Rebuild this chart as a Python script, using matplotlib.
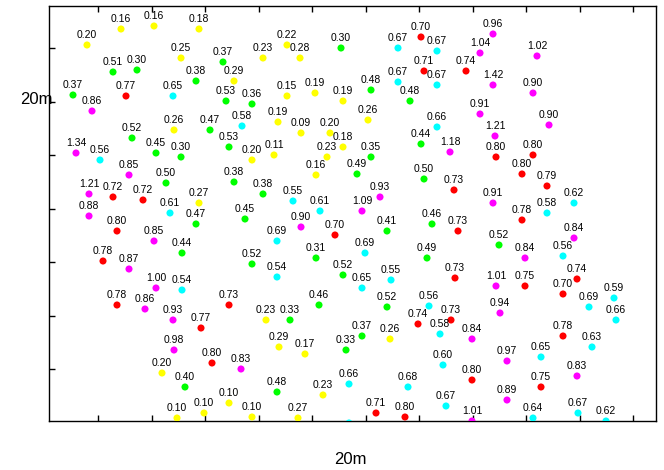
import numpy as np
import matplotlib.pyplot as plt

plt.rcParams['font.family'] = ['Liberation Sans', 'DejaVu Sans']

# tree positions on the plot grid (x to the right, y downward) and measured values
x = [121, 154, 199, 87, 181, 113, 137, 196, 73, 126, 173, 92, 174, 132,
     223, 263, 287, 300, 341, 234, 226, 252, 287, 315, 343, 210, 242, 278, 301,
     330, 343, 229, 252, 274, 327,
     421, 493, 398, 437, 480, 424, 466, 398, 437, 493, 371, 410, 480, 368, 437,
     495, 421, 450, 496, 371,
     537, 533, 549, 533,
     76, 100, 156, 181, 129, 166, 89, 113, 143, 199, 170, 89, 196, 117, 154,
     182, 103, 129, 156, 182,
     316, 357, 234, 263, 293, 320, 362, 245, 301, 335, 277, 316, 252, 343, 277,
     424, 454, 380, 493, 432, 387, 458, 499, 365, 427, 455, 391, 496, 362,
     522, 547, 574, 547, 522, 574, 525, 563, 577, 525, 563,
     117, 145, 173, 201, 174, 212, 162, 185, 177, 204,
     229, 319, 266, 290, 279, 305, 346, 241, 349, 277, 323, 229, 252, 298, 349,
     387, 429, 500, 418, 451, 362, 390, 440, 472, 507, 443, 472, 408, 507, 446,
     376, 405, 472,
     589, 614, 616, 563, 592, 541, 577, 541, 533, 578, 606]
y = [29, 26, 29, 45, 58, 72, 70, 81, 95, 96, 96, 111, 130, 138,
     62, 58, 45, 58, 48, 81, 101, 104, 96, 93, 101, 130, 126, 122, 133,
     133, 147, 147, 160, 155, 157,
     37, 34, 48, 51, 53, 71, 71, 82, 85, 85, 90, 101, 114, 120, 127,
     136, 144, 152, 157, 157,
     56, 93, 125, 155,
     153, 160, 153, 157, 175, 183, 194, 197, 200, 203, 213, 216, 224, 231, 241,
     253, 261, 269, 288, 290,
     175, 174, 182, 194, 201, 211, 211, 219, 227, 235, 241, 258, 264, 275, 277,
     179, 190, 197, 203, 224, 231, 231, 245, 253, 258, 278, 280, 286, 288,
     174, 186, 203, 213, 220, 238, 258, 256, 279, 286, 294,
     305, 309, 320, 328, 350, 363, 373, 387, 418, 413,
     305, 305, 320, 320, 347, 354, 350, 369, 384, 392, 395, 403, 417, 418, 423,
     307, 306, 313, 324, 320, 336, 339, 334, 339, 361, 365, 380, 387, 400, 406,
     413, 417, 421,
     307, 298, 320, 336, 347, 357, 376, 387, 418, 413, 421]
values = [0.16, 0.16, 0.18, 0.20, 0.25, 0.51, 0.30, 0.38, 0.37, 0.77, 0.65, 0.86, 0.26, 0.52,
          0.37, 0.23, 0.22, 0.28, 0.30, 0.29, 0.53, 0.36, 0.15, 0.19, 0.19, 0.47, 0.58, 0.19, 0.09,
          0.20, 0.18, 0.53, 0.20, 0.11, 0.23,
          0.70, 0.96, 0.67, 0.67, 1.04, 0.71, 0.74, 0.67, 0.67, 1.42, 0.48, 0.48, 0.91, 0.26, 0.66,
          1.21, 0.44, 1.18, 0.80, 0.35,
          1.02, 0.90, 0.90, 0.80,
          1.34, 0.56, 0.45, 0.30, 0.85, 0.50, 1.21, 0.72, 0.72, 0.27, 0.61, 0.88, 0.47, 0.80, 0.85,
          0.44, 0.78, 0.87, 1.00, 0.54,
          0.16, 0.49, 0.38, 0.38, 0.55, 0.61, 1.09, 0.45, 0.90, 0.70, 0.69, 0.31, 0.52, 0.52, 0.54,
          0.50, 0.73, 0.93, 0.91, 0.46, 0.41, 0.73, 0.52, 0.69, 0.49, 0.73, 0.55, 1.01, 0.65,
          0.80, 0.79, 0.62, 0.58, 0.78, 0.84, 0.84, 0.56, 0.74, 0.75, 0.70,
          0.78, 0.86, 0.93, 0.77, 0.98, 0.80, 0.20, 0.40, 0.10, 0.10,
          0.73, 0.46, 0.23, 0.33, 0.29, 0.17, 0.33, 0.83, 0.66, 0.48, 0.23, 0.10, 0.10, 0.27, 0.66,
          0.52, 0.56, 0.94, 0.74, 0.73, 0.37, 0.26, 0.58, 0.84, 0.97, 0.60, 0.80, 0.68, 0.89, 0.67,
          0.71, 0.80, 1.01,
          0.69, 0.59, 0.66, 0.78, 0.63, 0.65, 0.83, 0.75, 0.64, 0.67, 0.62]

# value classes: upper bound and colour
class_bounds = [0.295, 0.535, 0.695, 0.805, np.inf]
class_colors = ['#ffff00', '#00ff00', '#00ffff', '#ff0000', '#ff00ff']

x_ticks = [98, 151.5, 205, 258.5, 312, 365.5, 419, 472.5, 526, 579.5, 633]
y_ticks = [48, 101.5, 155, 208.5, 262, 315.5, 369]

fig = plt.figure(figsize=(6.64, 4.70), dpi=100)
ax = fig.add_axes([49 / 664, 49 / 470, 607 / 664, 415 / 470])
ax.set_xlim(49, 656)
ax.set_ylim(421, 6)

vals = np.array(values)
cls = np.searchsorted(class_bounds, vals)
colors = [class_colors[c] for c in cls]
ax.scatter(x, y, s=26, c=colors, edgecolors='none', zorder=3)

for xi, yi, v in zip(x, y, values):
    ax.annotate(f'{v:.2f}', (xi, yi), xytext=(0, 3.5), textcoords='offset points',
                ha='center', va='bottom', fontsize=7.5, color='black')

ax.set_xticks(x_ticks)
ax.set_yticks(y_ticks)
ax.tick_params(direction='in', length=4, width=1, top=True, bottom=True,
               left=True, right=False, labelbottom=False, labelleft=False)
for sp in ax.spines.values():
    sp.set_linewidth(1)

fig.text(36 / 664, 1 - 100 / 470, '20m', ha='center', va='center', fontsize=12)
fig.text(350 / 664, 1 - 459 / 470, '20m', ha='center', va='center', fontsize=12)

fig.savefig('out.png', dpi=100)
